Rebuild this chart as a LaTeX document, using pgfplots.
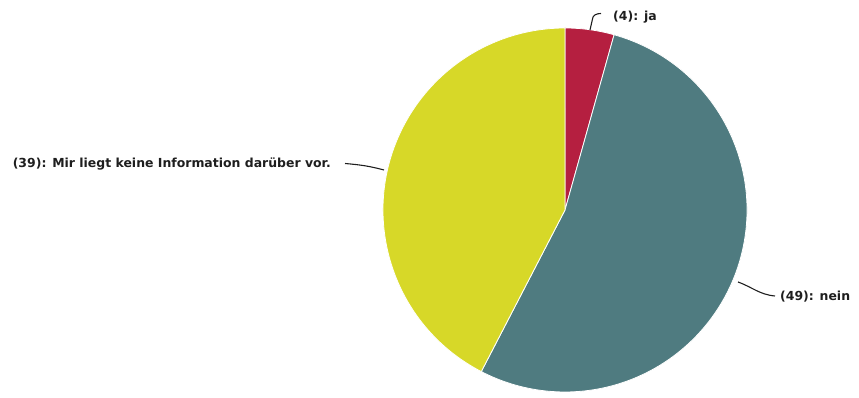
\documentclass[border=0pt]{standalone}
\usepackage{pgfplots}
\pgfplotsset{compat=1.18}
\usepackage{pgfplotstable}
\usepackage{fontspec}
\setmainfont{DejaVu Sans}
\definecolor{cja}{HTML}{B51F40}
\definecolor{cnein}{HTML}{4F7B80}
\definecolor{cmir}{HTML}{D7D828}
\definecolor{ctext}{HTML}{1E1E1E}
\pgfplotstableread{
label value
ja 4
nein 49
mir 39
}\piedata
\begin{document}
\begin{tikzpicture}
\pgfplotstablegetelem{0}{value}\of\piedata \let\va\pgfplotsretval
\pgfplotstablegetelem{1}{value}\of\piedata \let\vb\pgfplotsretval
\pgfplotstablegetelem{2}{value}\of\piedata \let\vc\pgfplotsretval
\pgfmathsetmacro\tot{\va+\vb+\vc}
\pgfmathsetmacro\aA{90}
\pgfmathsetmacro\aB{90-360*(\va/\tot)}
\pgfmathsetmacro\aC{\aB-360*(\vb/\tot)}
\pgfmathsetmacro\aD{\aC-360*(\vc/\tot)}
\begin{axis}[hide axis, scale only axis, width=859bp, height=393bp,
  xmin=0, xmax=859, ymin=0, ymax=393, clip=false]
\path (axis cs:0,0) rectangle (axis cs:859,393);
\fill[cja, draw=white, line width=0.8pt] (axis cs:565,183) -- ++(\aA:182bp) arc[start angle=\aA, end angle=\aB, radius=182bp] -- cycle;
\fill[cnein, draw=white, line width=0.8pt] (axis cs:565,183) -- ++(\aB:182bp) arc[start angle=\aB, end angle=\aC, radius=182bp] -- cycle;
\fill[cmir, draw=white, line width=0.8pt] (axis cs:565,183) -- ++(\aC:182bp) arc[start angle=\aC, end angle=\aD, radius=182bp] -- cycle;
% leader lines
\draw[ctext, line width=1.1pt] (axis cs:590,363) -- (axis cs:592.5,374) to[out=90,in=180] (axis cs:601,379.5);
\draw[ctext, line width=1.1pt] (axis cs:738,111) to[out=-20,in=175] (axis cs:775,97);
\draw[ctext, line width=1.1pt] (axis cs:384,223) to[out=165,in=-5] (axis cs:345,229.5);
% labels
\node[anchor=west, text=ctext, font=\bfseries\fontsize{12.5}{14}\selectfont, inner sep=0pt] at (axis cs:613,376) {(4): ja};
\node[anchor=west, text=ctext, font=\bfseries\fontsize{12.5}{14}\selectfont, inner sep=0pt] at (axis cs:780,96) {(49): nein};
\node[anchor=east, text=ctext, font=\bfseries\fontsize{12.5}{14}\selectfont, inner sep=0pt] at (axis cs:331,229) {(39): Mir liegt keine Information darüber vor.};
\end{axis}
\end{tikzpicture}
\end{document}
